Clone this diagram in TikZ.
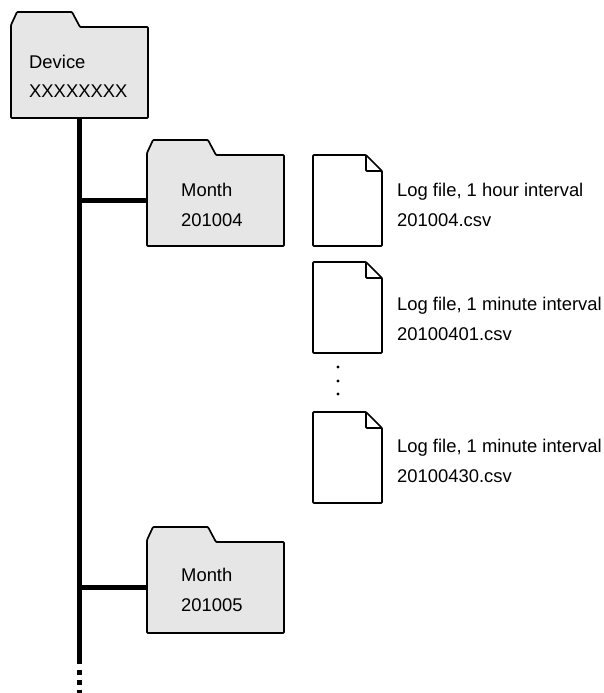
\documentclass[tikz,border=0pt]{standalone}
\usepackage{fontspec}
\setmainfont{Liberation Sans}
\definecolor{folderfill}{HTML}{E6E6E6}
\tikzset{
  outline/.style={draw=black, line width=1.7pt, line join=round, rounded corners=0.8pt},
  box/.style={minimum width=137pt, minimum height=91pt, inner sep=0pt, anchor=north west},
  filebox/.style={minimum width=69pt, minimum height=91pt, inner sep=0pt, anchor=north west},
  lbl/.style={anchor=base west, inner sep=0pt, font=\fontsize{18.4}{30}\selectfont},
  trunk/.style={line width=5pt, draw=black},
  branch/.style={line width=4.5pt, draw=black},
  pics/folder/.style={code={
    \draw[outline, fill=folderfill] (0,0) -- (0,-2) -- (6,-15) -- (61,-15) -- (69,0) -- (137,0) -- (137,91) -- (0,91) -- cycle;
  }},
  pics/logfile/.style={code={
    \draw[outline, fill=white] (0,0) -- (53,0) -- (69,16) -- (69,91) -- (0,91) -- cycle;
    \draw[outline] (53,0) -- (53,16) -- (69,16);
  }}
}
\begin{document}
\begin{tikzpicture}[x=1pt, y=-1pt]
\useasboundingbox (0,0) rectangle (604,693);
% folders
\pic at (11,27) {folder};
\node[box] (dev) at (11,27) {};
\pic at (147,155) {folder};
\node[box] (m1) at (147,155) {};
\pic at (147,542) {folder};
\node[box] (m2) at (147,542) {};
% folder labels
\node[lbl] (devl1) at (29,68) {Device};
\node[lbl] (devl2) at (29,97) {XXXXXXXX};
\node[lbl] (m1l1) at (181,196) {Month};
\node[lbl] (m1l2) at (181,226) {201004};
\node[lbl] (m2l1) at (181,581) {Month};
\node[lbl] (m2l2) at (181,611) {201005};
% files
\pic at (313,155) {logfile};
\node[filebox] (f1) at (313,155) {};
\pic at (313,262) {logfile};
\node[filebox] (f2) at (313,262) {};
\pic at (313,412) {logfile};
\node[filebox] (f3) at (313,412) {};
\node[lbl] (f1l1) at (397,196) {Log file, 1 hour interval};
\node[lbl] (f1l2) at (397,226) {201004.csv};
\node[lbl] (f2l1) at (397,310) {Log file, 1 minute interval};
\node[lbl] (f2l2) at (397,340) {20100401.csv};
\node[lbl] (f3l1) at (397,452) {Log file, 1 minute interval};
\node[lbl] (f3l2) at (397,482) {20100430.csv};
% dots
\fill (338,367) circle (1.7);
\fill (338,381) circle (1.7);
\fill (338,394) circle (1.7);
% trunk
\coordinate (tend) at (dev.south |- 0,664);
\coordinate (dstart) at (dev.south |- 0,670);
\coordinate (dend) at (dev.south |- 0,696);
\draw[trunk] (dev.south) -- (tend);
\draw[trunk, dash pattern=on 4.5pt off 5.5pt] (dstart) -- (dend);
\draw[branch] (m1.west -| dev.south) -- (m1.west);
\draw[branch] (m2.west -| dev.south) -- (m2.west);
\end{tikzpicture}
\end{document}
